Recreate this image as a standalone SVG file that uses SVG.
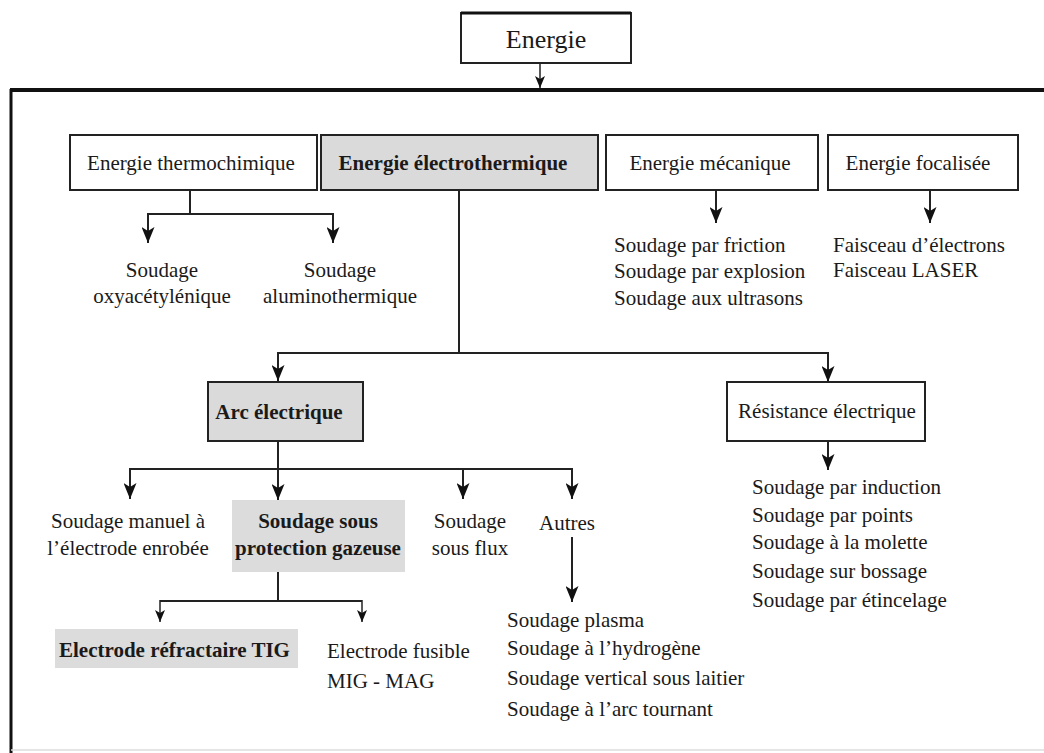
<svg xmlns="http://www.w3.org/2000/svg" width="1044" height="753" viewBox="0 0 1044 753">
<defs>
<marker id="ah" markerWidth="16" markerHeight="13" refX="16" refY="6.5" orient="auto" markerUnits="userSpaceOnUse" viewBox="0 0 16 13">
<path d="M0,0 L16,6.5 L0,13 L4,6.5 Z" fill="#111"/>
</marker>
<marker id="ahs" markerWidth="12" markerHeight="10" refX="12" refY="5" orient="auto" markerUnits="userSpaceOnUse" viewBox="0 0 12 10">
<path d="M0,0 L12,5 L0,10 L3,5 Z" fill="#111"/>
</marker>
</defs>
<style>
text{font-family:"Liberation Serif","Times New Roman",serif;font-size:21px;fill:#1a1a1a}
.b{font-weight:bold}
.c{text-anchor:middle}
.box{fill:#fff;stroke:#222;stroke-width:2}
.gbox{fill:#dadada;stroke:#222;stroke-width:2}
.gbg{fill:#dcdcdc;stroke:none}
.ln{fill:none;stroke:#222;stroke-width:2}
.arr{fill:none;stroke:#222;stroke-width:2;marker-end:url(#ah)}
.arrs{fill:none;stroke:#222;stroke-width:1.5;marker-end:url(#ahs)}
</style>
<rect width="1044" height="753" fill="#fff"/>

<g id="frame">
<line x1="10" y1="90" x2="1044" y2="90" stroke="#111" stroke-width="4"/>
<line x1="11" y1="89" x2="11" y2="753" stroke="#111" stroke-width="3"/>
<line x1="11" y1="750" x2="1044" y2="750" stroke="#ddd" stroke-width="1.5"/>
</g>

<g id="connectors">
<line class="arrs" x1="540" y1="63" x2="540" y2="88"/>
<line class="ln" x1="190" y1="190" x2="190" y2="214"/>
<line class="ln" x1="148" y1="214" x2="333" y2="214"/>
<line class="arr" x1="148" y1="213" x2="148" y2="243"/>
<line class="arr" x1="333" y1="213" x2="333" y2="243"/>
<line class="ln" x1="459" y1="190" x2="459" y2="353"/>
<line class="ln" x1="278" y1="353" x2="828" y2="353"/>
<line class="arr" x1="278" y1="352" x2="278" y2="381"/>
<line class="arr" x1="828" y1="352" x2="828" y2="382"/>
<line class="arr" x1="716" y1="191" x2="716" y2="223"/>
<line class="arr" x1="930" y1="191" x2="930" y2="223"/>
<line class="ln" x1="278" y1="441" x2="278" y2="469"/>
<line class="ln" x1="130" y1="469" x2="572" y2="469"/>
<line class="arr" x1="130" y1="468" x2="130" y2="499"/>
<line class="arr" x1="278" y1="468" x2="278" y2="500"/>
<line class="arr" x1="463" y1="468" x2="463" y2="499"/>
<line class="arr" x1="572" y1="468" x2="572" y2="499"/>
<line class="arr" x1="572" y1="537" x2="572" y2="602"/>
<line class="ln" x1="278" y1="572" x2="278" y2="601"/>
<line class="ln" x1="160" y1="601" x2="362" y2="601"/>
<line class="arrs" x1="160" y1="600" x2="160" y2="622"/>
<line class="arrs" x1="362" y1="600" x2="362" y2="622"/>
<line class="arr" x1="828" y1="441" x2="828" y2="470"/>
</g>

<g id="n-energie">
<rect class="box" x="461" y="13" width="170" height="50"/>
<line x1="461" y1="13" x2="631" y2="13" stroke="#111" stroke-width="3"/>
<text class="c" x="546" y="48" style="font-size:26px">Energie</text>
</g>

<g id="n-thermochimique">
<rect class="box" x="70" y="135" width="247" height="55"/>
<text class="c" x="191" y="170">Energie thermochimique</text>
</g>

<g id="n-electrothermique">
<rect class="gbox" x="321" y="135" width="277" height="55"/>
<text class="c b" x="453" y="170">Energie électrothermique</text>
</g>

<g id="n-mecanique">
<rect class="box" x="606" y="135" width="212" height="55"/>
<text class="c" x="710" y="170">Energie mécanique</text>
</g>

<g id="n-focalisee">
<rect class="box" x="828" y="135" width="190" height="55"/>
<text class="c" x="918" y="170">Energie focalisée</text>
</g>

<g id="n-oxy">
<text class="c" x="162" y="277">Soudage</text>
<text class="c" x="162" y="303">oxyacétylénique</text>
</g>

<g id="n-alu">
<text class="c" x="340" y="277">Soudage</text>
<text class="c" x="340" y="303">aluminothermique</text>
</g>

<g id="n-meca-list">
<text x="614" y="252">Soudage par friction</text>
<text x="614" y="278">Soudage par explosion</text>
<text x="614" y="305">Soudage aux ultrasons</text>
</g>

<g id="n-foc-list">
<text x="833" y="252">Faisceau d’électrons</text>
<text x="833" y="277">Faisceau LASER</text>
</g>

<g id="n-arc">
<rect class="gbox" x="208" y="382" width="155" height="59"/>
<text class="c b" x="279" y="419">Arc électrique</text>
</g>

<g id="n-resistance">
<rect class="box" x="727" y="382" width="198" height="59"/>
<text class="c" x="827" y="418">Résistance électrique</text>
</g>

<g id="n-manuel">
<text class="c" x="128" y="528">Soudage manuel à</text>
<text class="c" x="128" y="555">l’électrode enrobée</text>
</g>

<g id="n-gazeuse">
<rect class="gbg" x="232" y="500" width="173" height="72"/>
<text class="c b" x="318" y="528">Soudage sous</text>
<text class="c b" x="318" y="555">protection gazeuse</text>
</g>

<g id="n-flux">
<text class="c" x="470" y="528">Soudage</text>
<text class="c" x="470" y="555">sous flux</text>
</g>

<g id="n-autres">
<text class="c" x="567" y="530">Autres</text>
</g>

<g id="n-autres-list">
<text x="507" y="627">Soudage plasma</text>
<text x="507" y="655">Soudage à l’hydrogène</text>
<text x="507" y="685">Soudage vertical sous laitier</text>
<text x="507" y="716">Soudage à l’arc tournant</text>
</g>

<g id="n-tig">
<rect class="gbg" x="55" y="629" width="243" height="39"/>
<text class="b" x="59" y="657">Electrode réfractaire TIG</text>
</g>

<g id="n-mig">
<text x="327" y="658">Electrode fusible</text>
<text x="327" y="688">MIG - MAG</text>
</g>

<g id="n-res-list">
<text x="752" y="494">Soudage par induction</text>
<text x="752" y="522">Soudage par points</text>
<text x="752" y="549">Soudage à la molette</text>
<text x="752" y="578">Soudage sur bossage</text>
<text x="752" y="607">Soudage par étincelage</text>
</g>
</svg>
